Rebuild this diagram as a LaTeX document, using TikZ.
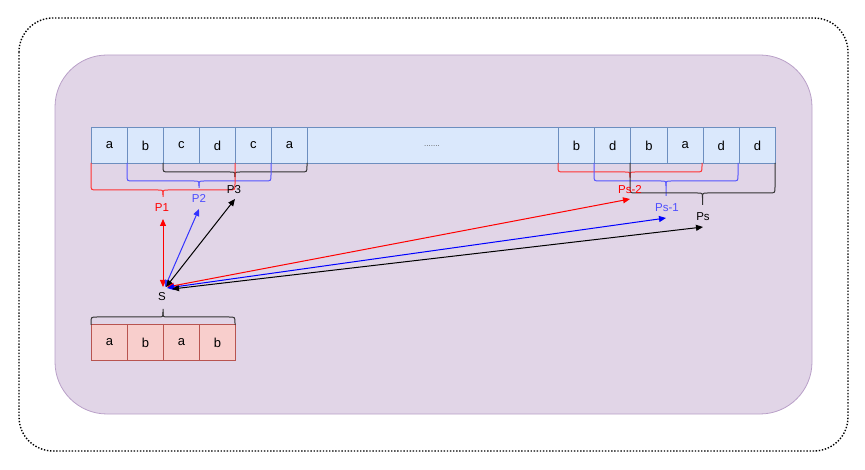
\documentclass[tikz,border=0pt]{standalone}
\usepackage{fontspec}
\setmainfont{Liberation Sans}
\usetikzlibrary{arrows.meta}
\definecolor{cellblue}{HTML}{DAE8FC}
\definecolor{cellbluedraw}{HTML}{6C8EBF}
\definecolor{cellred}{HTML}{F8CECC}
\definecolor{cellreddraw}{HTML}{B85450}
\definecolor{purplefill}{HTML}{E1D5E7}
\definecolor{purpledraw}{HTML}{B9A0C8}
\definecolor{bred}{HTML}{FF3333}
\definecolor{bblue}{HTML}{5555FF}
\definecolor{bblack}{HTML}{333333}
\definecolor{ared}{HTML}{FF0000}
\definecolor{ablue}{HTML}{0000FF}
\definecolor{tblue}{HTML}{4D4DFF}
\tikzset{
  cellA/.style={draw=cellbluedraw, fill=cellblue, line width=0.8pt, minimum width=36pt, minimum height=36pt, inner sep=0pt, font=\fontsize{13}{15}\selectfont, anchor=north west},
  cellB/.style={draw=cellreddraw, fill=cellred, line width=0.8pt, minimum width=36pt, minimum height=36pt, inner sep=0pt, font=\fontsize{13}{15}\selectfont, anchor=north west},
  lbl/.style={inner sep=0pt, font=\fontsize{11.5}{13}\selectfont},
  brc/.style={line width=1pt, line join=round},
  arr/.style={line width=1pt, {Triangle[length=7pt,width=6pt]}-{Triangle[length=7pt,width=6pt]}}
}
% brace pointing down: color, x1, x2, ytop, ybottom, tip end
\newcommand\downbrace[6]{%
  \pgfmathsetmacro\xm{(#2+#3)/2}%
  \draw[brc,#1] (#2,#4) -- (#2,#5-6) .. controls (#2,#5) .. (#2+6,#5) -- (\xm-5,#5) .. controls (\xm,#5) .. (\xm,#5+5) -- (\xm,#6);
  \draw[brc,#1] (#3,#4) -- (#3,#5-6) .. controls (#3,#5) .. (#3-6,#5) -- (\xm+5,#5) .. controls (\xm,#5) .. (\xm,#5+5);
}
\begin{document}
\begin{tikzpicture}[x=1pt,y=-1pt]
\useasboundingbox (0,0) rectangle (865,470);
% outer dotted frame
\draw[line width=1.4pt, dash pattern=on 1.4pt off 1.7pt, rounded corners=34pt] (19,18) rectangle (848,451);
% purple panel
\draw[draw=purpledraw, fill=purplefill, line width=0.8pt, rounded corners=52pt] (55,55) rectangle (812,414);
% top string
\foreach \c [count=\i from 0] in {a,b,c,d,c,a} {
  \node[cellA] (t\i) at (91+36*\i,127) {\c};
}
\node[cellA, minimum width=251pt] (tdots) at (307,127) {};
\node[inner sep=0pt, text=gray!70!black, font=\fontsize{8}{9}\selectfont] (dots) at (432,146) {.......};
\foreach \c [count=\i from 0] in {b,d,b,a,d,d} {
  \node[cellA, minimum width=36.3pt] (r\i) at (558+36.2*\i,127) {\c};
}
% pattern
\foreach \c [count=\i from 0] in {a,b,a,b} {
  \node[cellB] (p\i) at (91+36*\i,324) {\c};
}
% braces left
\downbrace{bblack}{163}{307}{163}{172}{177}
\downbrace{bblue}{127}{271}{163}{181}{188}
\downbrace{bred}{91}{235}{163}{190}{197}
% braces right
\downbrace{bred}{558}{702}{163}{172}{178}
\downbrace{bblue}{594}{738}{163}{181}{196}
\downbrace{bblack}{630}{775}{163}{193}{205}
% pattern brace (pointing up)
\draw[brc,bblack] (91,325) -- (91,323) .. controls (91,317) .. (97,317) -- (158,317) .. controls (163,317) .. (163,312) -- (163,309);
\draw[brc,bblack] (235,325) -- (235,323) .. controls (235,317) .. (229,317) -- (168,317) .. controls (163,317) .. (163,312);
% labels
\node[lbl, text=ared] (P1) at (162,208) {P1};
\node[lbl, text=tblue] (P2) at (199,198) {P2};
\node[lbl, text=black] (P3) at (234,190) {P3};
\node[lbl, text=ared] (Ps2) at (630,190) {Ps-2};
\node[lbl, text=tblue] (Ps1) at (667,208) {Ps-1};
\node[lbl, text=black] (Ps) at (703,217) {Ps};
\node[lbl, text=black] (S) at (162,297) {S};
% arrow end points
\coordinate (s0) at (163,287);
\coordinate (s1) at (165,287);
\coordinate (s2) at (166,287);
\coordinate (s3) at (167,287);
\coordinate (s4) at (167,288);
\coordinate (s5) at (172,289);
\coordinate (e1) at (163,219);
\coordinate (e2) at (199,209);
\coordinate (e3) at (235,199);
\coordinate (e4) at (630,199);
\coordinate (e5) at (666,218);
\coordinate (e6) at (703,227);
\draw[arr, ared] (s0) -- (e1);
\draw[arr, ablue!80!white] (s1) -- (e2);
\draw[arr, black] (s2) -- (e3);
\draw[arr, ared] (s3) -- (e4);
\draw[arr, ablue] (s4) -- (e5);
\draw[arr, black] (s5) -- (e6);
\end{tikzpicture}
\end{document}
